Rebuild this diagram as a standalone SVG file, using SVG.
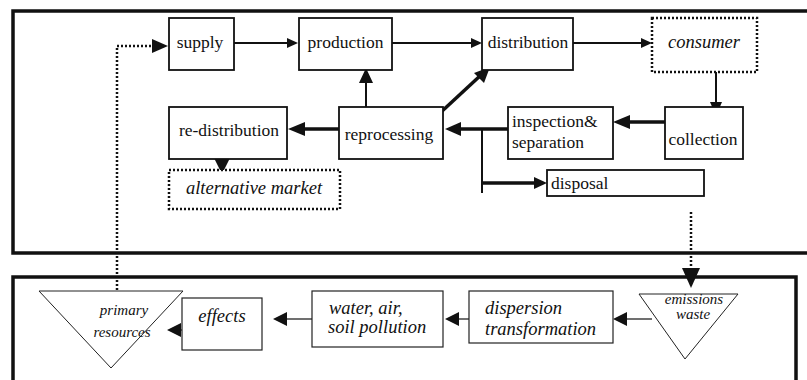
<svg xmlns="http://www.w3.org/2000/svg" width="807" height="380" viewBox="0 0 807 380">
<style>
.frame{fill:none;stroke:#111;stroke-width:3.5}
.box{fill:#fff;stroke:#111;stroke-width:1.8}
.dbox{fill:#fff;stroke:#111;stroke-width:2.5;stroke-dasharray:2 2}
.tri{fill:#fff;stroke:#222;stroke-width:1}
.bbox{fill:#fff;stroke:#222;stroke-width:1.2}
text{font-family:'Liberation Serif','DejaVu Serif',serif;fill:#111}
.t{font-size:17.5px}
.i{font-size:18.5px;font-style:italic}
.s{font-size:15px;font-style:italic}
.c{text-anchor:middle}
.thin{fill:none;stroke:#111;stroke-width:2}
.hair{fill:none;stroke:#111;stroke-width:1.2}
.thick{fill:none;stroke:#111;stroke-width:3.5}
.dot{fill:none;stroke:#111;stroke-width:2.5;stroke-dasharray:2 2}
.head{fill:#111;stroke:none}
</style>
<rect x="0" y="0" width="807" height="380" fill="#fff"/>
<g id="frames">
<rect class="frame" x="13" y="11" width="800" height="242"/>
<path class="frame" d="M13,392 V277 H796 V392"/>
</g>
<g id="connectors">
<path class="dot" d="M117,338 V46 H154"/>
<polygon class="head" points="168,46 152,39 152,53"/>
<path class="thin" d="M234,43 H289"/>
<polygon class="head" points="298,43 287,38 287,48"/>
<path class="thin" d="M392,43 H472"/>
<polygon class="head" points="482,43 471,38 471,48"/>
<path class="thin" d="M573,43 H642"/>
<polygon class="head" points="652,43 641,38 641,48"/>
<path class="thin" d="M716,72 V104"/>
<polygon class="head" points="716,116 710,102 722,102"/>
<path class="thick" d="M665,122 H628"/>
<polygon class="head" points="613,122 630,115 630,129"/>
<path class="thick" d="M508,129 H458"/>
<polygon class="head" points="445,129 461,122 461,136"/>
<path class="thin" d="M482,129 V193"/>
<path class="thick" d="M482,183 H536"/>
<polygon class="head" points="547,183 534,177 534,189"/>
<path class="thick" d="M339,129 H302"/>
<polygon class="head" points="288,129 305,122 305,136"/>
<path class="thin" d="M366,117 V80"/>
<polygon class="head" points="366,68 359,83 373,83"/>
<path class="thick" d="M440,113 L481,75"/>
<polygon class="head" points="490,67 474,73 484,83"/>
<path class="thick" d="M222,151 V162"/>
<polygon class="head" points="222,174 214,158 230,158"/>
<path class="dot" d="M691,212 V270"/>
<polygon class="head" points="691,288 682,268 700,268"/>
<path class="hair" d="M652,319 H626"/>
<polygon class="head" points="613,319 627,312 627,326"/>
<path class="hair" d="M469,319 H458"/>
<polygon class="head" points="445,319 459,312 459,326"/>
<path class="hair" d="M312,319 H286"/>
<polygon class="head" points="273,319 287,312 287,326"/>
<path class="hair" d="M205,330 H180"/>
<polygon class="head" points="167,330 181,323 181,337"/>
</g>
<g id="supply"><rect class="box" x="169" y="18" width="65" height="52"/><text class="t c" x="200" y="48">supply</text></g>
<g id="production"><rect class="box" x="299" y="18" width="93" height="52"/><text class="t c" x="345.5" y="48">production</text></g>
<g id="distribution"><rect class="box" x="482" y="18" width="91" height="52"/><text class="t c" x="528" y="48">distribution</text></g>
<g id="consumer"><rect class="dbox" x="652" y="18" width="105" height="54"/><text class="i c" x="704" y="48">consumer</text></g>
<g id="re-distribution"><rect class="box" x="169" y="107" width="118" height="52"/><text class="t c" x="229" y="136">re-distribution</text></g>
<g id="reprocessing"><rect class="box" x="339" y="107" width="104" height="52"/><text class="t c" x="389" y="140">reprocessing</text></g>
<g id="inspection"><rect class="box" x="508" y="107" width="105" height="52"/><text class="t" x="512" y="127">inspection&amp;</text><text class="t" x="512" y="148">separation</text></g>
<g id="collection"><rect class="box" x="665" y="107" width="78" height="52"/><text class="t c" x="703" y="145">collection</text></g>
<g id="disposal"><rect class="box" x="547" y="170" width="157" height="26"/><text class="t" x="551" y="189">disposal</text></g>
<g id="alternative-market"><rect class="dbox" x="169" y="170" width="171" height="39"/><text class="i c" x="254" y="194">alternative market</text></g>
<g id="primary-resources"><polygon class="tri" points="39,291 183,291 111,368"/><text class="s c" x="124" y="315">primary</text><text class="s c" x="122" y="337">resources</text></g>
<g id="effects"><rect class="bbox" x="182" y="298" width="80" height="52"/><text class="i c" x="222" y="322">effects</text></g>
<g id="water-air-soil"><rect class="bbox" x="312" y="291" width="131" height="56"/><text class="i" x="329" y="314">water, air,</text><text class="i" x="328" y="333">soil pollution</text></g>
<g id="dispersion"><rect class="bbox" x="469" y="291" width="144" height="52"/><text class="i" x="485" y="314">dispersion</text><text class="i" x="485" y="335">transformation</text></g>
<g id="emissions-waste"><polygon class="tri" points="639,294 738,294 685,359"/><text class="s c" x="694" y="304">emissions</text><text class="s c" x="693" y="319">waste</text></g>
</svg>
